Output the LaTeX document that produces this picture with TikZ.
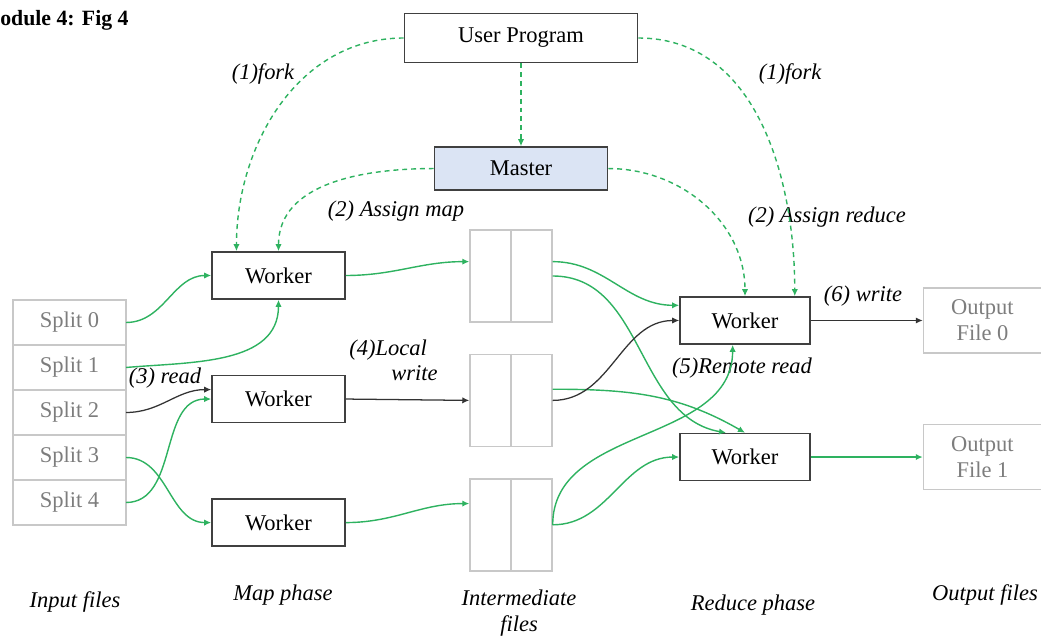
\documentclass[tikz,border=0pt]{standalone}
\usepackage{fontspec}
\setmainfont{Liberation Serif}
\usepackage{xcolor}
\usetikzlibrary{arrows.meta, positioning, calc}

\definecolor{flowgreen}{RGB}{46,178,96}
\definecolor{boxgray}{RGB}{200,200,200}
\definecolor{textgray}{RGB}{125,125,125}
\definecolor{masterblue}{RGB}{219,228,244}

\begin{document}
\begin{tikzpicture}[
  font=\fontsize{16}{18}\selectfont,
  worker/.style={rectangle, draw=black!75, line width=1.1pt, minimum width=3.325cm, minimum height=1.175cm},
  split/.style={rectangle, draw=boxgray, line width=1pt, text=textgray, minimum width=2.825cm, minimum height=1.125cm, outer sep=0pt},
  ifile/.style={rectangle, draw=boxgray, line width=1pt, minimum width=2.05cm, minimum height=2.3cm},
  outfile/.style={rectangle, draw=boxgray, line width=1pt, text=textgray, minimum width=2.95cm, minimum height=1.625cm, align=center, font=\fontsize{16}{18.5}\selectfont},
  lbl/.style={font=\fontsize{16}{18}\selectfont\itshape, inner sep=1pt},
  phase/.style={lbl, align=center, font=\fontsize{16}{19}\selectfont\itshape},
  flow/.style={-{Latex[length=5pt,width=4.5pt]}, flowgreen, line width=1pt},
  ctrl/.style={flow, dash pattern=on 3.5pt off 2.8pt},
  blackflow/.style={-{Latex[length=5pt,width=4.5pt]}, black!80, line width=0.9pt}
]
  \useasboundingbox (0,0) rectangle (26.025,-15.975);

  \node[anchor=west, inner sep=0pt, font=\fontsize{15.5}{18}\selectfont\bfseries] (title) at (0,-0.5) {odule 4: Fig 4};

  \node[worker, minimum width=5.825cm, minimum height=1.225cm] (user) at (13.025,-0.95) {User Program};
  \node[worker, fill=masterblue, minimum width=4.325cm, minimum height=1.075cm, below=2.075cm of user] (master) {Master};

  % map side
  \node[worker] (mw1) at (6.9625,-6.8875) {Worker};
  \node[worker, below=1.875cm of mw1] (mw2) {Worker};
  \node[worker, below=1.875cm of mw2] (mw3) {Worker};

  \node[split] (s0) at (1.7375,-8.0625) {Split 0};
  \node[split, below=0pt of s0] (s1) {Split 1};
  \node[split, below=0pt of s1] (s2) {Split 2};
  \node[split, below=0pt of s2] (s3) {Split 3};
  \node[split, below=0pt of s3] (s4) {Split 4};

  \node[ifile] (if1) at (12.775,-6.9) {};
  \node[ifile, below=0.775cm of if1] (if2) {};
  \node[ifile, below=0.775cm of if2] (if3) {};
  \foreach \f in {if1,if2,if3}
    \draw[boxgray, line width=1pt] (\f.north) -- (\f.south);

  % reduce side
  \node[worker, minimum width=3.25cm] (rw1) at (18.625,-8.0125) {Worker};
  \node[worker, minimum width=3.25cm, below=2.2cm of rw1] (rw2) {Worker};

  \node[outfile, right=2.8cm of rw1] (of0) {Output\\File 0};
  \node[outfile, right=2.8cm of rw2] (of1) {Output\\File 1};

  % labels
  \node[lbl] (fork1) at (6.575,-1.85) {(1)fork};
  \node[lbl] (fork2) at (19.75,-1.85) {(1)fork};
  \node[lbl] (amap) at (9.9,-5.275) {(2) Assign map};
  \node[lbl] (ared) at (20.675,-5.425) {(2) Assign reduce};
  \node[lbl] (wr6) at (21.575,-7.4) {(6) write};
  \node[lbl] (rd3) at (4.125,-9.45) {(3) read};
  \node[lbl, align=left] (lw4) at (9.84,-9.0) {(4)Local\\\hspace*{1.05cm}write};
  \node[lbl] (rr5) at (18.55,-9.2) {(5)Remote read};

  \node[phase] (pin) at (1.875,-15.05) {Input files};
  \node[phase] (pmap) at (7.075,-14.875) {Map phase};
  \node[phase] (pint) at (12.975,-15.325) {Intermediate\\files};
  \node[phase] (pred) at (18.825,-15.125) {Reduce phase};
  \node[phase] (pout) at (24.625,-14.875) {Output files};

  % fork and assign
  \draw[ctrl] (user.west) to[out=180,in=90] (mw1.150);
  \draw[ctrl] (user.east) to[out=0,in=90] (rw1.26);
  \draw[ctrl] (user.south) -- (master.north);
  \draw[ctrl] (master.west) to[out=180,in=90] (mw1.north);
  \draw[ctrl] (master.east) to[out=0,in=90] (rw1.north);

  % read splits
  \draw[flow] (s0.east) to[out=0,in=180] (mw1.west);
  \draw[flow] (s1.east) to[out=5,in=-90] (mw1.south);
  \draw[blackflow] (s2.east) to[out=0,in=180] (mw2.172);
  \draw[flow] (s4.east) to[out=0,in=180] (mw2.west);
  \draw[flow] (s3.east) to[out=0,in=180] (mw3.west);

  % local write
  \draw[flow] (mw1.east) to[out=0,in=180] (if1.161);
  \draw[blackflow] (mw2.east) -- (if2.west);
  \draw[flow] (mw3.east) to[out=0,in=180] (if3.153);

  % remote read
  \draw[flow] (if1.19) to[out=0,in=180] (rw1.167);
  \draw[flow] (if1.east) to[out=0,in=170] (rw2.128);
  \draw[flow] (if2.15) to[out=0,in=150] (rw2.north);
  \draw[blackflow] (if2.east) to[out=0,in=180] (rw1.west);
  \draw[flow] (if3.east) to[out=90,in=-90] (rw1.243);
  \draw[flow] (if3.east) to[out=0,in=180] (rw2.west);

  % write output
  \draw[blackflow] (rw1.east) -- (of0.west);
  \draw[flow] (rw2.east) -- (of1.west);
\end{tikzpicture}
\end{document}
